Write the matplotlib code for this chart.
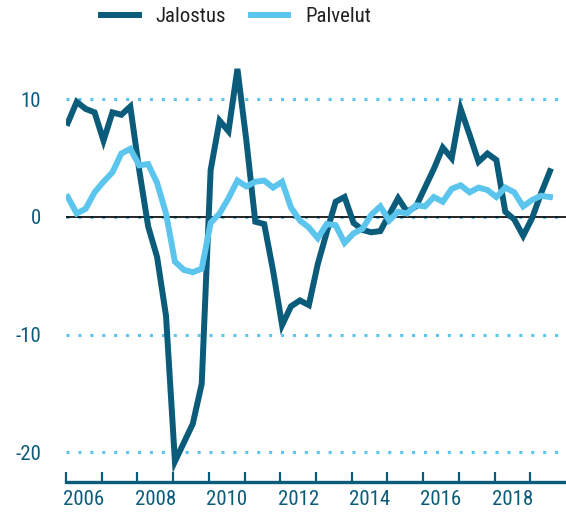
import matplotlib
matplotlib.use("Agg")
import matplotlib.pyplot as plt
from matplotlib import font_manager
import numpy as np

# ---- data (quarterly, 2006Q1 .. 2019Q3) ----
start_year = 2006
jalostus = [8.0, 9.8, 9.2, 8.9, 6.5, 8.9, 8.7, 9.4,
            4.0, -0.8, -3.4, -8.4, -20.8, -19.2, -17.6, -14.2,
            4.0, 8.2, 7.3, 12.6, 6.5, -0.4, -0.6, -4.6,
            -9.2, -7.6, -7.1, -7.5, -4.0, -1.3, 1.3, 1.7,
            -0.5, -1.1, -1.3, -1.2, 0.2, 1.6, 0.45, 0.9,
            2.5, 4.1, 5.9, 5.0, 9.2, 7.0, 4.7, 5.4,
            4.85, 0.45, -0.2, -1.6, -0.1, 2.0, 3.9]
palvelut = [1.7, 0.3, 0.7, 2.1, 3.0, 3.8, 5.4, 5.8,
            4.4, 4.5, 2.9, 0.3, -3.8, -4.5, -4.7, -4.4,
            -0.5, 0.3, 1.6, 3.1, 2.6, 3.0, 3.1, 2.5,
            3.0, 0.8, -0.3, -0.9, -1.8, -0.6, -0.7, -2.2,
            -1.4, -1.0, 0.2, 0.9, -0.3, 0.45, 0.3, 1.0,
            0.9, 1.7, 1.3, 2.4, 2.7, 2.1, 2.5, 2.3,
            1.7, 2.5, 2.1, 0.9, 1.45, 1.8, 1.7]
series_names = ["Jalostus", "Palvelut"]
year_labels = ["2006", "2008", "2010", "2012", "2014", "2016", "2018"]
y_ticks = [-20, -10, 0, 10]

# ---- font ----
family = "DejaVu Sans"
for cand in ["Liberation Sans Narrow", "Roboto Condensed", "Open Sans Condensed", "Liberation Sans"]:
    try:
        font_manager.findfont(cand, fallback_to_default=False)
        family = cand
        break
    except Exception:
        pass
plt.rcParams["font.family"] = [family, "DejaVu Sans"]

dark = "#0b5c7a"
light = "#5bc5ee"

W, H = 566, 514
fig = plt.figure(figsize=(W / 100, H / 100), dpi=100)
ax = fig.add_axes([66 / W, (H - 482) / H, (W - 66) / W, (482 - 46.6) / H])

n = len(jalostus)
x = start_year + 0.05 + 0.25 * np.arange(n)

# grid lines
for yv in y_ticks:
    ax.plot([start_year, 2019.8], [yv, yv], color=light, lw=2.2,
            linestyle=(0, (1, 2.9)), zorder=1, dash_capstyle="butt")
ax.axhline(0, color="black", lw=1.2, zorder=2)

ax.plot(x, jalostus, color=dark, lw=4.3, solid_joinstyle="miter", zorder=3, label=series_names[0])
ax.plot(x, palvelut, color=light, lw=4.3, solid_joinstyle="miter", zorder=4, label=series_names[1])

ax.set_xlim(start_year, 2020)
ax.set_ylim(-22.55, 14.5)

for s in ["top", "right", "left"]:
    ax.spines[s].set_visible(False)
ax.spines["bottom"].set_color(dark)
ax.spines["bottom"].set_linewidth(2.4)

ax.set_xticks(np.arange(2006, 2020))
ax.set_xticklabels([])
ax.tick_params(axis="x", which="major", direction="in", length=7.5, width=1.6, color=dark)
ax.set_xticks([int(l) + 0.5 for l in year_labels], minor=True)
ax.set_xticklabels(year_labels, minor=True)
ax.tick_params(axis="x", which="minor", length=0, pad=6, labelsize=15, labelcolor=dark)

ax.set_yticks(y_ticks)
ax.set_yticklabels([str(v) for v in y_ticks])
ax.tick_params(axis="y", length=0, pad=18, labelsize=15, labelcolor=dark)

leg = fig.legend(loc="center", bbox_to_anchor=(236 / W, 1 - 17 / H), ncol=2, frameon=False,
                 fontsize=15, handlelength=1.8, handletextpad=0.8, columnspacing=1.2)
for t in leg.get_texts():
    t.set_color("#231f20")

fig.savefig("out.png", dpi=100)
